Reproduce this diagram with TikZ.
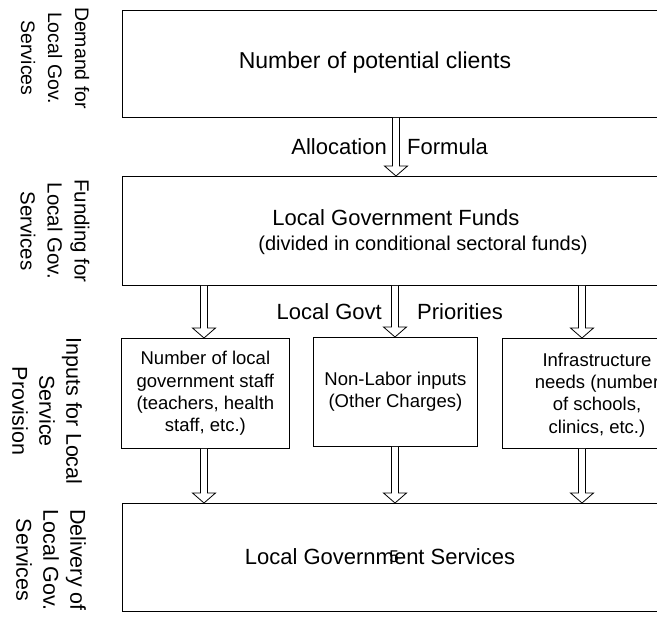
\documentclass[tikz,border=0pt]{standalone}
\usepackage{fontspec}
\setmainfont{Liberation Sans}
\usetikzlibrary{positioning,calc}
\tikzset{
  stage/.style={draw, line width=0.8pt, inner sep=0pt},
  sidelabel/.style={rotate=-90, align=center, font=\fontsize{#1}{27}\selectfont},
  sidelabel/.default=20,
  bigtext/.style={align=center, font=\fontsize{#1}{27}\selectfont},
  bigtext/.default=22,
  smalltext/.style={align=center, font=\fontsize{18.5}{22.3}\selectfont},
  flowlabel/.style={font=\fontsize{22}{24}\selectfont, inner sep=0pt},
}
% hollow block arrow from #1 down to #2
\newcommand{\hollowarrow}[2]{%
  \draw[line width=0.8pt, fill=white] let \p1=#1, \p2=#2 in
    (\x1-3.5pt,\y1) -- (\x1-3.5pt,\y2+10pt) -- (\x1-11.5pt,\y2+10pt) -- (\x1,\y2)
    -- (\x1+11.5pt,\y2+10pt) -- (\x1+3.5pt,\y2+10pt) -- (\x1+3.5pt,\y1);}
\begin{document}
\begin{tikzpicture}[x=1pt, y=-1pt]
\useasboundingbox (0,0) rectangle (657,621);
\clip (0,0) rectangle (657,621);
%side labels:
\node[sidelabel=19.5] (demandlbl) at (55,58) {Demand for\\Local Gov.\\Services};
\node[sidelabel=20.5] (fundlbl) at (55,231) {Funding for\\Local Gov.\\Services};
\node[sidelabel=21.5] (inputlbl) at (47,411) {Inputs for Local\\Service\\Provision};
\node[sidelabel=21.5] (delivlbl) at (51,560) {Delivery of\\Local Gov.\\Services};
%stages:
\node[stage, anchor=north west, minimum width=560, minimum height=107] (demand) at (122,10) {};
\node[stage, anchor=north west, minimum width=560, minimum height=109] (fund) at (122,176) {};
\node[stage, anchor=north west, minimum width=168, minimum height=110] (staff) at (121,338) {};
\node[stage, anchor=north west, minimum width=164, minimum height=109] (nonlabor) at (313,337) {};
\node[stage, anchor=north west, minimum width=190, minimum height=110] (infra) at (502,338) {};
\node[stage, anchor=north west, minimum width=560, minimum height=108] (deliv) at (122,503) {};
%texts:
\node[bigtext=23] (demandtxt) at (375,63) {Number of potential clients};
\node[bigtext] (fundtxt) at (396,218) {Local Government Funds};
\node[bigtext=20] (fundsub) at (423,245) {(divided in conditional sectoral funds)};
\node[smalltext] (stafftxt) at (staff) {Number of local\\government staff\\(teachers, health\\staff, etc.)};
\node[smalltext] (nonlabortxt) at (nonlabor) {Non-Labor inputs\\(Other Charges)};
\node[smalltext] (infratxt) at (597,395) {Infrastructure\\needs (number\\of schools,\\clinics, etc.)};
\node[bigtext] (delivtxt) at (380,557) {Local Government Services};
\node[font=\fontsize{17}{17}\selectfont] (pagenum) at (394,557) {5};
%arrows:
\hollowarrow{(396,0 |- demand.south)}{(396,0 |- fund.north)}
\hollowarrow{(204,0 |- fund.south)}{(204,0 |- staff.north)}
\hollowarrow{(395,0 |- fund.south)}{(395,0 |- nonlabor.north)}
\hollowarrow{(582,0 |- fund.south)}{(582,0 |- infra.north)}
\hollowarrow{(204,0 |- staff.south)}{(204,0 |- deliv.north)}
\hollowarrow{(395,0 |- nonlabor.south)}{(395,0 |- deliv.north)}
\hollowarrow{(582,0 |- infra.south)}{(582,0 |- deliv.north)}
%arrow labels:
\node[flowlabel, anchor=east] (alloc) at (387,147) {Allocation};
\node[flowlabel, anchor=west] (formula) at (407,147) {Formula};
\node[flowlabel, anchor=east] (govt) at (382,312) {Local Govt};
\node[flowlabel, anchor=west] (prio) at (417,312) {Priorities};
\end{tikzpicture}
\end{document}
